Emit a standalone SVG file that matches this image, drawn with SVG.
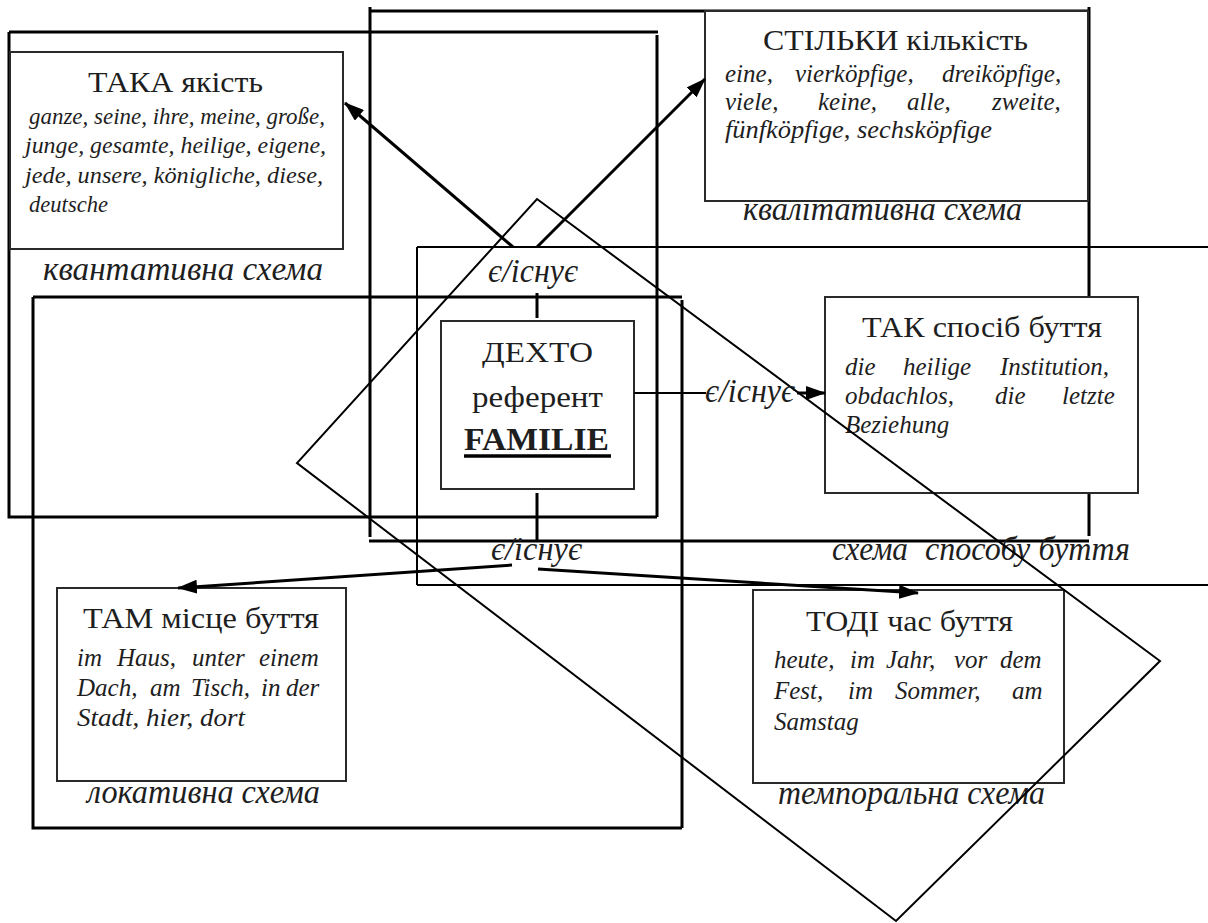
<svg xmlns="http://www.w3.org/2000/svg" width="1208" height="923" viewBox="0 0 1208 923">
<style>
.frame{stroke:#000;stroke-width:3;fill:none}
.frame2{stroke:#000;stroke-width:2;fill:none}
.box{fill:#fff;stroke:#2a2a2a;stroke-width:2}
text{font-family:"Liberation Serif","Times New Roman",serif;fill:#1e1e1e}
.title{font-size:30px}
.ex{font-style:italic;font-size:25px}
.exs{font-style:italic;font-size:23px}
.lbl{font-style:italic;font-size:33px}
.conn{stroke:#000;stroke-width:3;fill:none}
.thin{stroke:#000;stroke-width:2;fill:none}
.diamond{stroke:#000;stroke-width:2;fill:none}
</style>
<defs>
<marker id="ah" markerUnits="userSpaceOnUse" markerWidth="20" markerHeight="14" refX="19" refY="7" orient="auto">
<path d="M0,0 L20,7 L0,14 Z" fill="#000"/>
</marker>
</defs>
<rect width="1208" height="923" fill="#fff"/>
<g id="frames">
  <g id="frame-quantitative">
    <path class="frame" d="M9,32 H658 M9,32 V517 H657 M657,35 V517"/>
    <text class="lbl" x="43" y="280" textLength="280" lengthAdjust="spacingAndGlyphs">квантативна схема</text>
  </g>
  <g id="frame-qualitative">
    <path class="frame" d="M370,11 H1089 M370,7 V537 M369,541 H1089 M1089,7 V536"/>
    <text class="lbl" x="743" y="220" textLength="279" lengthAdjust="spacingAndGlyphs">квалітативна схема</text>
  </g>
  <g id="frame-mode">
    <path class="frame2" d="M417,247 H1208 M417,247 V585 M417,585 H1208"/>
    <text class="lbl" y="560"><tspan x="832" textLength="76" lengthAdjust="spacingAndGlyphs">схема</tspan><tspan x="925" textLength="205" lengthAdjust="spacingAndGlyphs">способу буття</tspan></text>
  </g>
  <g id="frame-locative">
    <path class="frame" d="M33,297 H682 M33,297 V828 H682 M682,300 V828"/>
    <text class="lbl" x="87" y="803" textLength="233" lengthAdjust="spacingAndGlyphs">локативна схема</text>
  </g>
  <g id="frame-temporal">
    <text class="lbl" x="778" y="804" textLength="267" lengthAdjust="spacingAndGlyphs">темпоральна схема</text>
  </g>
</g>

<g id="node-taka">
  <rect class="box" x="10" y="52" width="333" height="197"/>
  <text class="title" x="88" y="92" textLength="175" lengthAdjust="spacingAndGlyphs">ТАКА якість</text>
  <text class="exs" x="29" y="124" textLength="296" lengthAdjust="spacingAndGlyphs">ganze, seine, ihre, meine, große,</text>
  <text class="exs" x="25" y="153" textLength="301" lengthAdjust="spacingAndGlyphs">junge, gesamte, heilige, eigene,</text>
  <text class="exs" x="25" y="183" textLength="298" lengthAdjust="spacingAndGlyphs">jede, unsere, königliche, diese,</text>
  <text class="exs" x="29" y="212" textLength="79" lengthAdjust="spacingAndGlyphs">deutsche</text>
</g>

<g id="node-stilky">
  <rect class="box" x="705" y="11" width="383" height="190"/>
  <text class="title" x="763" y="50" textLength="265" lengthAdjust="spacingAndGlyphs">СТІЛЬКИ кількість</text>
  <text class="ex" y="82"><tspan x="725">eine,</tspan><tspan x="795">vierköpfige,</tspan><tspan x="942">dreiköpfige,</tspan></text>
  <text class="ex" y="110"><tspan x="725">viele,</tspan><tspan x="818">keine,</tspan><tspan x="907">alle,</tspan><tspan x="992">zweite,</tspan></text>
  <text class="ex" x="725" y="138" textLength="267" lengthAdjust="spacingAndGlyphs">fünfköpfige, sechsköpfige</text>
</g>

<g id="node-tak">
  <rect class="box" x="825" y="297" width="313" height="196"/>
  <text class="title" x="862" y="337" textLength="240" lengthAdjust="spacingAndGlyphs">ТАК спосіб буття</text>
  <text class="ex" y="375"><tspan x="845">die</tspan><tspan x="903">heilige</tspan><tspan x="1000">Institution,</tspan></text>
  <text class="ex" y="404"><tspan x="845">obdachlos,</tspan><tspan x="995">die</tspan><tspan x="1062">letzte</tspan></text>
  <text class="ex" x="845" y="433">Beziehung</text>
</g>

<g id="node-tam">
  <rect class="box" x="57" y="588" width="289" height="193"/>
  <text class="title" x="83" y="628" textLength="236" lengthAdjust="spacingAndGlyphs">ТАМ місце буття</text>
  <text class="ex" y="666"><tspan x="77">im</tspan><tspan x="117">Haus,</tspan><tspan x="192">unter</tspan><tspan x="259">einem</tspan></text>
  <text class="ex" y="696"><tspan x="77">Dach,</tspan><tspan x="150">am</tspan><tspan x="191">Tisch,</tspan><tspan x="261">in</tspan><tspan x="286">der</tspan></text>
  <text class="ex" x="77" y="726" textLength="168" lengthAdjust="spacingAndGlyphs">Stadt, hier, dort</text>
</g>

<g id="node-todi">
  <rect class="box" x="753" y="590" width="311" height="193"/>
  <text class="title" x="806" y="631" textLength="207" lengthAdjust="spacingAndGlyphs">ТОДІ час буття</text>
  <text class="ex" y="668"><tspan x="774">heute,</tspan><tspan x="850">im</tspan><tspan x="886">Jahr,</tspan><tspan x="954">vor</tspan><tspan x="1000">dem</tspan></text>
  <text class="ex" y="699"><tspan x="774">Fest,</tspan><tspan x="848">im</tspan><tspan x="895">Sommer,</tspan><tspan x="1012">am</tspan></text>
  <text class="ex" x="774" y="730">Samstag</text>
</g>

<g id="node-dekhto">
  <rect class="box" x="441" y="321" width="193" height="168"/>
  <text class="title" x="482" y="362" textLength="111" lengthAdjust="spacingAndGlyphs">ДЕХТО</text>
  <text class="title" x="472" y="407" textLength="131" lengthAdjust="spacingAndGlyphs">референт</text>
  <text class="title" x="464" y="450" style="font-size:31px;font-weight:bold" textLength="145" lengthAdjust="spacingAndGlyphs">FAMILIE</text>
  <line x1="464" y1="456" x2="611" y2="456" stroke="#000" stroke-width="3.5"/>
</g>

<g id="diamond">
  <polygon class="diamond" points="537,199 1160,661 896,921 297,463"/>
</g>

<g id="connectors">
  <line class="conn" x1="537" y1="293" x2="537" y2="318"/>
  <line class="conn" x1="537" y1="493" x2="537" y2="541"/>
  <line class="thin" x1="634" y1="393" x2="706" y2="393"/>
  <line class="conn" x1="797" y1="393" x2="825" y2="393" marker-end="url(#ah)"/>
  <line class="conn" x1="513" y1="247" x2="345" y2="103" marker-end="url(#ah)"/>
  <line class="conn" x1="537" y1="247" x2="705" y2="79" marker-end="url(#ah)"/>
  <line class="conn" x1="512" y1="565" x2="178" y2="588" marker-end="url(#ah)"/>
  <line class="conn" x1="538" y1="569" x2="918" y2="593" marker-end="url(#ah)"/>
  <text class="lbl" x="488" y="282" textLength="90" lengthAdjust="spacingAndGlyphs">є/існує</text>
  <text class="lbl" x="705" y="402" textLength="90" lengthAdjust="spacingAndGlyphs">є/існує</text>
  <text class="lbl" x="491" y="560" textLength="91" lengthAdjust="spacingAndGlyphs">є/існує</text>
</g>
</svg>
